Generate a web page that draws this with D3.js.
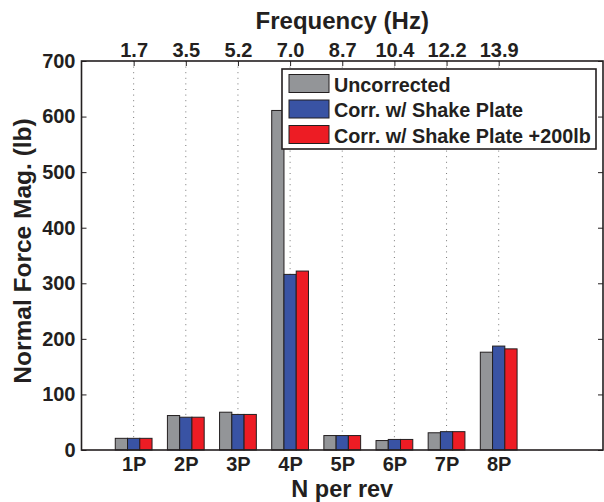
<!DOCTYPE html>
<html>
<head>
<meta charset="utf-8">
<script src="https://cdn.jsdelivr.net/npm/d3@7"></script>
<style>
  body { margin: 0; background: #fff; }
  svg text { font-family: "Liberation Sans", Arial, Helvetica, sans-serif; font-weight: bold; fill: #231f20; }
</style>
</head>
<body>
<div id="chart"></div>
<script>
// Data
const categories = ['1P', '2P', '3P', '4P', '5P', '6P', '7P', '8P']
const frequencies = ['1.7', '3.5', '5.2', '7.0', '8.7', '10.4', '12.2', '13.9']
const seriesNames = ['Uncorrected', 'Corr. w/ Shake Plate', 'Corr. w/ Shake Plate +200lb']
const uncorrected = [21, 62, 68, 611, 26, 17, 31, 176]
const shakePlate = [21, 59, 64, 316, 26, 19, 33, 187]
const shakePlate200 = [21, 59, 64, 322, 26, 19, 33, 182]
const yTicks = [0, 100, 200, 300, 400, 500, 600, 700]
const colors = ['#939598', '#3953a4', '#ed1c24']

function draw() {
    const seriesValues = [uncorrected, shakePlate, shakePlate200]

    // Dimensions
    let dimensions = {
        width: 604,
        height: 502,
        margin: { top: 61, bottom: 52, left: 81.5, right: 1 }
    }
    dimensions.ctrWidth = dimensions.width - dimensions.margin.left - dimensions.margin.right
    dimensions.ctrHeight = dimensions.height - dimensions.margin.top - dimensions.margin.bottom

    const svg = d3.select('#chart')
        .append('svg')
        .attr('width', dimensions.width)
        .attr('height', dimensions.height)
    const ctr = svg.append('g')
        .attr('transform', `translate(${dimensions.margin.left},${dimensions.margin.top})`)

    // Scales
    const xScale = d3.scaleLinear()
        .domain([0, 10])
        .range([0, dimensions.ctrWidth])
    const yScale = d3.scaleLinear()
        .domain([0, 700])
        .range([dimensions.ctrHeight, 0])
    const groupWidth = xScale(0.705) - xScale(0)
    const innerScale = d3.scaleBand()
        .domain(d3.range(seriesNames.length))
        .range([-groupWidth / 2, groupWidth / 2])
        .padding(0)

    // Grid (dotted, at categories)
    ctr.append('g')
        .selectAll('line')
        .data(d3.range(1, categories.length + 1))
        .join('line')
        .attr('x1', d => xScale(d)).attr('x2', d => xScale(d))
        .attr('y1', 0).attr('y2', dimensions.ctrHeight)
        .attr('stroke', '#777')
        .attr('stroke-width', 1)
        .attr('stroke-dasharray', '1,4.6')

    // Bars
    const rows = []
    categories.forEach((c, i) => {
        seriesValues.forEach((vals, s) => rows.push({ pos: i + 1, s: s, v: vals[i] }))
    })
    ctr.append('g')
        .selectAll('rect')
        .data(rows)
        .join('rect')
        .attr('x', d => xScale(d.pos) + innerScale(d.s))
        .attr('y', d => yScale(d.v))
        .attr('width', innerScale.bandwidth())
        .attr('height', d => yScale(0) - yScale(d.v))
        .attr('fill', d => colors[d.s])
        .attr('stroke', '#231f20')
        .attr('stroke-width', 1)

    // Axes
    const styleAxis = g => {
        g.select('.domain').remove()
        g.selectAll('.tick line').attr('stroke', '#231f20').attr('stroke-width', 1)
        g.selectAll('.tick text').style('font-size', '20px')
    }

    const yAxis = d3.axisLeft(yScale).tickValues(yTicks).tickSize(-5).tickPadding(6)
    ctr.append('g').call(yAxis).call(styleAxis)

    const yAxisRight = d3.axisRight(yScale).tickValues(yTicks).tickSize(-5).tickFormat('')
    ctr.append('g')
        .attr('transform', `translate(${dimensions.ctrWidth},0)`)
        .call(yAxisRight).call(styleAxis)

    const xAxis = d3.axisBottom(xScale)
        .tickValues(d3.range(1, categories.length + 1))
        .tickSize(0).tickPadding(6.5)
        .tickFormat(d => categories[d - 1])
    ctr.append('g')
        .attr('transform', `translate(0,${dimensions.ctrHeight})`)
        .call(xAxis).call(styleAxis)

    const xAxisTop = d3.axisTop(xScale)
        .tickValues(d3.range(1, frequencies.length + 1))
        .tickSize(-5).tickPadding(4.5)
        .tickFormat(d => frequencies[d - 1])
    ctr.append('g').call(xAxisTop).call(styleAxis)

    // Frame
    ctr.append('rect')
        .attr('x', 0).attr('y', 0)
        .attr('width', dimensions.ctrWidth)
        .attr('height', dimensions.ctrHeight)
        .attr('fill', 'none')
        .attr('stroke', '#231f20')
        .attr('stroke-width', 1.6)

    // Axis labels
    svg.append('text')
        .attr('x', dimensions.margin.left + dimensions.ctrWidth / 2)
        .attr('y', 496.5)
        .attr('text-anchor', 'middle')
        .style('font-size', '23.5px')
        .text('N per rev')
    svg.append('text')
        .attr('x', dimensions.margin.left + dimensions.ctrWidth / 2)
        .attr('y', 29)
        .attr('text-anchor', 'middle')
        .style('font-size', '24px')
        .text('Frequency (Hz)')
    svg.append('text')
        .attr('transform', `translate(31,251) rotate(-90)`)
        .attr('text-anchor', 'middle')
        .style('font-size', '24.5px')
        .text('Normal Force Mag. (lb)')

    // Legend
    const legend = svg.append('g').attr('transform', 'translate(282,69)')
    legend.append('rect')
        .attr('width', 314).attr('height', 80)
        .attr('fill', '#fff')
        .attr('stroke', '#231f20')
        .attr('stroke-width', 1.6)
    const items = legend.selectAll('g.item')
        .data(seriesNames)
        .join('g')
        .attr('class', 'item')
        .attr('transform', (d, i) => `translate(7,${5.5 + i * 25.5})`)
    items.append('rect')
        .attr('width', 40).attr('height', 18)
        .attr('fill', (d, i) => colors[i])
        .attr('stroke', '#231f20')
        .attr('stroke-width', 1)
    items.append('text')
        .attr('x', 45).attr('y', 17)
        .style('font-size', '19.8px')
        .text(d => d)
}
draw()
</script>
</body>
</html>
